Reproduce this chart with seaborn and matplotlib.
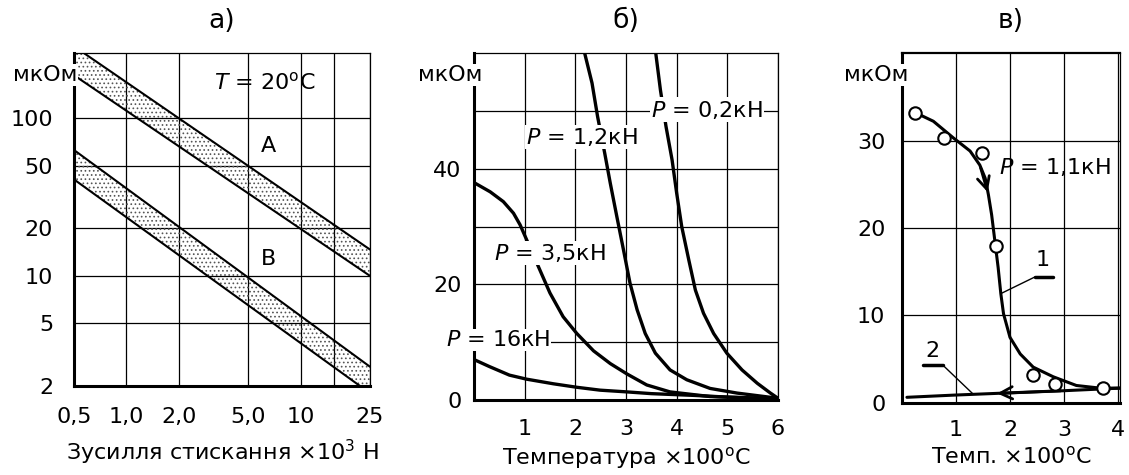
import numpy as np
import pandas as pd
import seaborn as sns
import matplotlib.pyplot as plt

# --- panel а: resistance vs clamping force (log-log), two bands
force = [0.5, 25]
a_upper = [287, 14.7]
a_lower = [188, 10.0]
b_upper = [63, 2.65]
b_lower = [41, 1.8]

# --- panel б: resistance vs temperature for several loads
p16_t = [0, 0.3, 0.7, 1.04, 1.57, 2.03, 2.49, 3.02, 3.5, 4.33, 5, 6]
p16_r = [7.0, 5.8, 4.3, 3.6, 2.8, 2.2, 1.7, 1.4, 1.1, 0.8, 0.5, 0.2]
p35_t = [0, 0.32, 0.58, 0.78, 0.91, 1.01, 1.30, 1.50, 1.76, 2.03, 2.36, 2.69, 3.02, 3.41,
         3.87, 4.66, 6]
p35_r = [37.6, 36, 34.3, 32.3, 30.3, 28.3, 22.5, 18.5, 14.4, 11.5, 8.5, 6.3, 4.5, 2.6,
         1.4, 0.6, 0.2]
p12_t = [2.17, 2.33, 2.44, 2.58, 2.69, 2.82, 2.95, 3.08, 3.22, 3.38, 3.58, 3.87, 4.2, 4.66,
         5.19, 6]
p12_r = [60.5, 54.8, 49, 42.7, 37.5, 31.7, 26, 20.2, 15.6, 11.5, 8.1, 5.2, 3.5, 2.0, 1.2, 0.3]
p02_t = [3.58, 3.68, 3.79, 3.91, 4.0, 4.1, 4.24, 4.37, 4.53, 4.73, 4.99, 5.29, 5.59, 5.85, 6.0]
p02_r = [60.5, 53.6, 47.3, 41.5, 35.8, 30, 24.2, 19, 15, 11.5, 8.1, 5.2, 2.9, 1.2, 0.3]

# --- panel в: heating / cooling at P = 1,1 кН
c1_t = [0.24, 0.58, 0.95, 1.26, 1.44, 1.54, 1.60, 1.66, 1.72, 1.78, 1.83, 1.88, 2.0, 2.19,
        2.43, 2.80, 3.23, 3.67, 4.04]
c1_r = [33.2, 32.2, 30.3, 28.8, 27.2, 25.7, 23.8, 21.5, 18.5, 15.5, 12.5, 10.2, 7.5, 5.6,
        4.1, 3.0, 2.0, 1.7, 1.7]
c2_t = [0.09, 0.96, 1.76, 2.99, 4.04]
c2_r = [0.65, 0.9, 1.1, 1.4, 1.7]
pts_t = [0.24, 0.78, 1.48, 1.74, 2.43, 2.83, 3.73]
pts_r = [33.2, 30.3, 28.6, 17.9, 3.2, 2.2, 1.7]

sns.set_style('white')
plt.rcParams['font.family'] = ['DejaVu Sans']
plt.rcParams['font.size'] = 16
plt.rcParams['mathtext.fontset'] = 'dejavusans'
plt.rcParams['hatch.linewidth'] = 0.7
plt.rcParams['hatch.color'] = '#555555'
for k in ['text.color', 'axes.labelcolor', 'xtick.color', 'ytick.color']:
    plt.rcParams[k] = 'black'

fig = plt.figure(figsize=(11.29, 4.75), dpi=100)
ax1 = fig.add_axes([0.0655, 0.1874, 0.2622, 0.701])
ax2 = fig.add_axes([0.4198, 0.1579, 0.2693, 0.7305])
ax3 = fig.add_axes([0.799, 0.1516, 0.1931, 0.7368])


def frame(ax):
    ax.grid(True, color='black', lw=0.9)
    ax.set_axisbelow(True)
    for s in ['top', 'right']:
        ax.spines[s].set_linewidth(0.9)
        ax.spines[s].set_color('black')
    for s in ['left', 'bottom']:
        ax.spines[s].set_linewidth(2.2)
        ax.spines[s].set_color('black')
    ax.tick_params(length=0)


unit = dict(ha='center', va='center', fontsize=16, zorder=6, clip_on=False,
            bbox=dict(fc='white', ec='none', pad=1))

# ---------------- а)
ax1.set_xscale('log')
ax1.set_yscale('log')
for band_lo, band_hi in [(a_lower, a_upper), (b_lower, b_upper)]:
    ax1.fill_between(force, band_lo, band_hi, facecolor='none', edgecolor='#555555',
                     hatch='....', linewidth=0)
    sns.lineplot(x=force, y=band_lo, ax=ax1, color='black', lw=1.5)
    sns.lineplot(x=force, y=band_hi, ax=ax1, color='black', lw=1.5)
ax1.set_xlim(0.5, 25)
ax1.set_ylim(2, 260)
ax1.set_xticks([0.5, 1, 2, 5, 10, 15.6, 25])
ax1.set_xticklabels(['0,5', '1,0', '2,0', '5,0', '10', '', '25'])
ax1.set_yticks([2, 5, 10, 20, 50, 100])
ax1.set_yticklabels(['2', '5', '10', '20', '50', '100'])
ax1.minorticks_off()
frame(ax1)
ax1.tick_params(axis='x', pad=15)
ax1.tick_params(axis='y', pad=15)
ax1.set_xlabel('Зусилля стискання ×10$^3$ Н', labelpad=8)
ax1.set_title('а)', pad=18)
ax1.text(6.2, 170, r'$\mathit{T}$ = 20$^{\rm o}$C', ha='center', va='center')
ax1.text(6.5, 67, 'A', ha='center', va='center')
ax1.text(6.5, 12.8, 'B', ha='center', va='center')
ax1.text(-0.098, 0.934, 'мкОм', transform=ax1.transAxes, **unit)

# ---------------- б)
for tt, rr in [(p16_t, p16_r), (p35_t, p35_r), (p12_t, p12_r), (p02_t, p02_r)]:
    sns.lineplot(x=tt, y=rr, ax=ax2, color='black', lw=2.4, sort=False, estimator=None,
                 solid_joinstyle='round')
ax2.set_xlim(0, 6)
ax2.set_ylim(0, 60)
ax2.set_xticks(range(7))
ax2.set_xticklabels(['', '1', '2', '3', '4', '5', '6'])
ax2.set_yticks([0, 10, 20, 30, 40, 50])
ax2.set_yticklabels(['0', '', '20', '', '40', ''])
frame(ax2)
ax2.tick_params(axis='x', pad=14)
ax2.tick_params(axis='y', pad=9)
ax2.set_xlabel('Температура ×100$^{\\rm o}$C', labelpad=4)
ax2.set_title('б)', pad=18)
lab = dict(ha='center', va='center', zorder=5, clip_on=False,
           bbox=dict(fc='white', ec='none', pad=1))
ax2.text(2.13, 45.5, r'$\mathit{P}$ = 1,2кН', **lab)
ax2.text(4.6, 50.2, r'$\mathit{P}$ = 0,2кН', **lab)
ax2.text(1.5, 25.4, r'$\mathit{P}$ = 3,5кН', **lab)
ax2.text(0.47, 10.4, r'$\mathit{P}$ = 16кН', **lab)
ax2.text(-0.079, 0.937, 'мкОм', transform=ax2.transAxes, **unit)

# ---------------- в)
sns.lineplot(x=c1_t, y=c1_r, ax=ax3, color='black', lw=2.2, sort=False, estimator=None,
             solid_joinstyle='round')
sns.lineplot(x=c2_t, y=c2_r, ax=ax3, color='black', lw=2.2, sort=False, estimator=None)
sns.scatterplot(x=pts_t, y=pts_r, ax=ax3, s=80, facecolor='white', edgecolor='black',
                linewidth=1.5, zorder=4)
ax3.annotate('', xy=(c1_t[6], c1_r[6]), xytext=(c1_t[4], c1_r[4]),
             arrowprops=dict(arrowstyle='->', lw=2, color='black', mutation_scale=22))
ax3.annotate('', xy=(c2_t[1] + 0.75, 1.08), xytext=(c2_t[3], c2_r[3]),
             arrowprops=dict(arrowstyle='->', lw=2, color='black', mutation_scale=22))
ax3.set_xlim(0, 4.04)
ax3.set_ylim(0, 40)
ax3.set_xticks(range(5))
ax3.set_xticklabels(['', '1', '2', '3', '4'])
ax3.set_yticks([0, 10, 20, 30])
frame(ax3)
ax3.spines['top'].set_linewidth(1.6)
ax3.tick_params(axis='x', pad=12)
ax3.tick_params(axis='y', pad=12)
ax3.set_xlabel('Темп. ×100$^{\\rm o}$C', labelpad=4)
ax3.set_title('в)', pad=18)
ax3.text(2.83, 27, r'$\mathit{P}$ = 1,1кН', ha='center', va='center')
ax3.text(2.6, 16.3, '1', ha='center', va='center')
ax3.plot([2.46, 2.8], [14.4, 14.4], color='black', lw=2.5)
ax3.plot([2.46, c1_t[10]], [14.4, c1_r[10]], color='black', lw=1)
ax3.text(0.57, 5.9, '2', ha='center', va='center')
ax3.plot([0.39, 0.76], [4.3, 4.3], color='black', lw=2.5)
ax3.plot([0.76, 1.32], [4.3, 1.0], color='black', lw=1)
ax3.text(-0.119, 0.937, 'мкОм', transform=ax3.transAxes, **unit)

fig.savefig('out.png', dpi=100)
